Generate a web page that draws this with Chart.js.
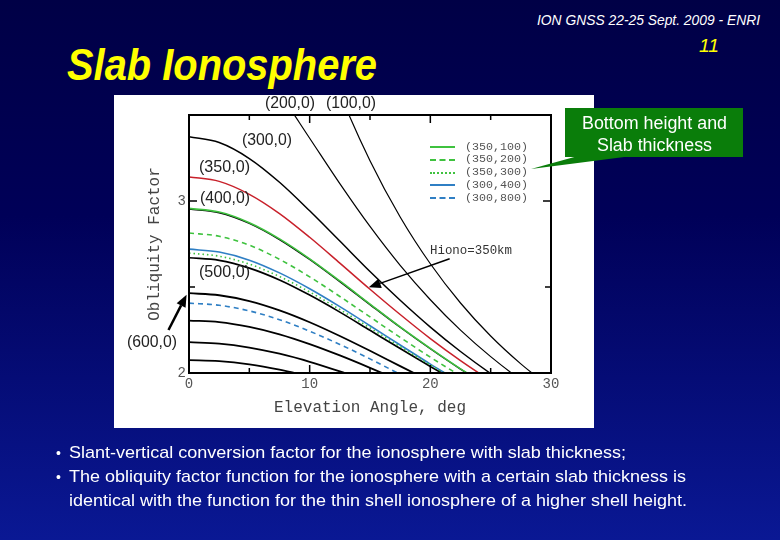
<!DOCTYPE html>
<html>
<head>
<meta charset="utf-8">
<script src="https://cdn.jsdelivr.net/npm/chart.js@4.4.1/dist/chart.umd.min.js"></script>
<style>
  html, body { margin: 0; padding: 0; }
  body {
    width: 780px; height: 540px; overflow: hidden; position: relative;
    background: linear-gradient(to bottom, #000046 0%, #000058 40%, #0a1894 100%);
    font-family: "Liberation Sans", Arial, sans-serif;
  }
  .t { position: absolute; white-space: nowrap; display: inline-block; transform-origin: 0 50%; }
  #panel { position: absolute; left: 114px; top: 95px; width: 480px; height: 333px; background: #fff; }
  #panel canvas { position: absolute; left: 0; top: 0; }
  .lbl { font-size: 16px; line-height: 18px; color: #222; }
  .mono { font-family: "Liberation Mono", "Courier New", monospace; }
  .leg { position: absolute; left: 316px; width: 25px; height: 0; }
  .legtxt { font-size: 11.7px; line-height: 12px; color: #555; left: 351px; }
  .bul { color: #fff; font-size: 17px; line-height: 22px; left: 69px; }
  .dot { color: #fff; font-size: 14px; line-height: 22px; left: 56px; }
  #callout { position: absolute; left: 565px; top: 108px; width: 178px; height: 49px; background: #0a7d0a; }
  .ct { color: #fff; font-size: 17.5px; line-height: 22px; }
</style>
</head>
<body>
<div class="t" style="left:537px; top:10px; font-size:15px; line-height:20px; font-style:italic; color:#fff;" data-w="223">ION GNSS 22-25 Sept. 2009 - ENRI</div>
<div class="t" style="left:699px; top:35px; font-size:19px; line-height:22px; font-style:italic; color:#ffff00;" data-w="20">11</div>
<div class="t" style="left:67px; top:39px; font-size:44px; line-height:52px; font-weight:bold; font-style:italic; color:#ffff00;" data-w="310">Slab Ionosphere</div>

<div id="panel">
  <canvas id="c" width="480" height="333"></canvas>
  <div class="t lbl" style="left:151px; top:-1px;" data-w="50">(200,0)</div>
  <div class="t lbl" style="left:212px; top:-1px;" data-w="50">(100,0)</div>
  <div class="t lbl" style="left:128px; top:36px;" data-w="50">(300,0)</div>
  <div class="t lbl" style="left:85px; top:63px;" data-w="51">(350,0)</div>
  <div class="t lbl" style="left:86px; top:94px;" data-w="50">(400,0)</div>
  <div class="t lbl" style="left:85px; top:168px;" data-w="51">(500,0)</div>
  <div class="t lbl" style="left:13px; top:238px;" data-w="50">(600,0)</div>
  <div class="t mono" style="left:316px; top:149px; font-size:12.5px; line-height:14px; color:#333;" data-w="82">Hiono=350km</div>

  <div class="leg" style="top:51px; border-top:2px solid #3fc23f;"></div>
  <div class="leg" style="top:64px; border-top:2px dashed #3fc23f;"></div>
  <div class="leg" style="top:77px; border-top:2px dotted #3fc23f;"></div>
  <div class="leg" style="top:89px; border-top:2px solid #2f7fc4;"></div>
  <div class="leg" style="top:102px; border-top:2px dashed #2f7fc4;"></div>
  <div class="t mono legtxt" style="top:46px;" data-w="63">(350,100)</div>
  <div class="t mono legtxt" style="top:58px;" data-w="63">(350,200)</div>
  <div class="t mono legtxt" style="top:71px;" data-w="63">(350,300)</div>
  <div class="t mono legtxt" style="top:84px;" data-w="63">(300,400)</div>
  <div class="t mono legtxt" style="top:97px;" data-w="63">(300,800)</div>
</div>

<svg width="780" height="540" style="position:absolute; left:0; top:0; pointer-events:none;">
  <polygon points="531,169 578,156 632,156" fill="#0a7d0a"/>
</svg>
<div id="callout"></div>
<div class="t ct" style="left:582px; top:112px;" data-w="145">Bottom height and</div>
<div class="t ct" style="left:597px; top:134px;" data-w="115">Slab thickness</div>

<div class="t dot" style="top:442px;">•</div>
<div class="t bul" style="top:442px;" data-w="557">Slant-vertical conversion factor for the ionosphere with slab thickness;</div>
<div class="t dot" style="top:466px;">•</div>
<div class="t bul" style="top:466px;" data-w="617">The obliquity factor function for the ionosphere with a certain slab thickness is</div>
<div class="t bul" style="top:490px;" data-w="618">identical with the function for the thin shell ionosphere of a higher shell height.</div>

<script>
// elevation angle samples (deg)
const angles = [0, 2.5, 5, 7.5, 10, 12.5, 15, 17.5, 20, 22.5, 25, 27.5, 30];

// thin shell curves (height, 0)
const shell100 = [null, null, null, 4.604, 4.085, 3.626, 3.234, 2.907, 2.635, 2.407, 2.215, 2.053, 1.914];
const shell200 = [null, 4.025, 3.861, 3.628, 3.365, 3.101, 2.852, 2.626, 2.426, 2.249, 2.095, 1.960, 1.841];
const shell300 = [3.373, 3.340, 3.247, 3.109, 2.943, 2.767, 2.590, 2.423, 2.267, 2.125, 1.997, 1.882, null];
const shell350 = [3.140, 3.114, 3.039, 2.927, 2.789, 2.639, 2.487, 2.340, 2.200, 2.072, 1.954, null, null];
const shell400 = [2.953, 2.932, 2.870, 2.776, 2.660, 2.531, 2.398, 2.266, 2.141, 2.023, 1.915, null, null];
const shell500 = [2.670, 2.655, 2.610, 2.541, 2.453, 2.354, 2.248, 2.142, 2.038, 1.938, null, null, null];
const shell600 = [2.464, 2.452, 2.418, 2.364, 2.295, 2.215, 2.129, 2.040, 1.952, null, null, null, null];
const shell700 = [2.305, 2.296, 2.268, 2.225, 2.168, 2.102, 2.030, 1.955, null, null, null, null, null];
const shell800 = [2.179, 2.171, 2.148, 2.112, 2.065, 2.009, 1.948, null, null, null, null, null, null];
const shell900 = [2.075, 2.069, 2.050, 2.019, 1.979, null, null, null, null, null, null, null, null];

// slab curves (bottom height, thickness)
const slab350_100 = [2.957, 2.936, 2.874, 2.780, 2.664, 2.535, 2.401, 2.268, 2.143, 2.024, 1.915, null, null];
const slab350_200 = [2.814, 2.795, 2.743, 2.661, 2.559, 2.445, 2.326, 2.207, 2.092, 1.983, null, null, null];
const slab350_300 = [2.697, 2.679, 2.633, 2.561, 2.471, 2.369, 2.262, 2.153, 2.047, 1.946, null, null, null];
const slab300_400 = [2.720, 2.703, 2.656, 2.582, 2.490, 2.386, 2.275, 2.163, 2.052, 1.946, null, null, null];
const slab300_800 = [2.406, 2.394, 2.361, 2.310, 2.243, 2.166, 2.082, 1.992, 1.900, null, null, null, null];

const xMarks = [0, 5, 10, 15, 20, 25, 30];
const yMarks = [2, 2.5, 3, 3.5];

// fit text widths to the slide
document.querySelectorAll('[data-w]').forEach(el => {
    const w = el.getBoundingClientRect().width;
    el.style.transform = `scaleX(${el.dataset.w / w})`;
});

const pts = vals => angles.map((a, i) => ({ x: a, y: vals[i] }));

function curve(vals, color, width, dash) {
    return {
        data: pts(vals), borderColor: color, borderWidth: width, borderDash: dash || [],
        pointRadius: 0, cubicInterpolationMode: 'monotone', fill: false
    };
}

const GREEN = '#3fc23f', BLUE = '#2f7fc4', RED = '#c8202a', BLACK = '#000';

// first dataset is drawn on top
const datasets = [
    curve(slab350_100, GREEN, 1.6),
    curve(slab350_200, GREEN, 1.6, [5, 4]),
    curve(slab350_300, GREEN, 1.6, [1.5, 3]),
    curve(slab300_400, BLUE, 1.6),
    curve(slab300_800, BLUE, 1.6, [5, 4]),
    curve(shell350, RED, 1.5),
    curve(shell100, BLACK, 1.2),
    curve(shell200, BLACK, 1.2),
    curve(shell300, BLACK, 1.5),
    curve(shell400, BLACK, 1.5),
    curve(shell500, BLACK, 1.7),
    curve(shell600, BLACK, 1.8),
    curve(shell700, BLACK, 1.8),
    curve(shell800, BLACK, 1.8),
    curve(shell900, BLACK, 1.8)
];

// annotation arrows in data coordinates
const arrows = [
    { from: [-1.7, 2.25], to: [-0.2, 2.455], width: 2.5 },
    { from: [21.6, 2.664], to: [14.9, 2.498], width: 1.5 }
];

const framePlugin = {
    id: 'frame',
    afterDatasetsDraw(chart) {
        const { ctx, chartArea: a, scales: { x, y } } = chart;
        ctx.save();
        ctx.strokeStyle = '#000';
        ctx.fillStyle = '#000';
        ctx.lineWidth = 2;
        ctx.strokeRect(a.left, a.top, a.right - a.left, a.bottom - a.top);
        ctx.lineWidth = 1.5;
        ctx.beginPath();
        xMarks.forEach(v => {
            const px = x.getPixelForValue(v);
            const len = v % 10 === 0 ? 8 : 5;
            ctx.moveTo(px, a.bottom); ctx.lineTo(px, a.bottom - len);
            ctx.moveTo(px, a.top); ctx.lineTo(px, a.top + len);
        });
        yMarks.forEach(v => {
            const py = y.getPixelForValue(v);
            const len = v % 1 === 0 ? 8 : 6;
            ctx.moveTo(a.left, py); ctx.lineTo(a.left + len, py);
            ctx.moveTo(a.right, py); ctx.lineTo(a.right - len, py);
        });
        ctx.stroke();

        arrows.forEach(ar => {
            const x0 = x.getPixelForValue(ar.from[0]), y0 = y.getPixelForValue(ar.from[1]);
            const x1 = x.getPixelForValue(ar.to[0]), y1 = y.getPixelForValue(ar.to[1]);
            const ang = Math.atan2(y1 - y0, x1 - x0);
            const hl = 12, hw = 5;
            const bx = x1 - hl * Math.cos(ang), by = y1 - hl * Math.sin(ang);
            ctx.lineWidth = ar.width;
            ctx.beginPath();
            ctx.moveTo(x0, y0); ctx.lineTo(bx, by);
            ctx.stroke();
            ctx.beginPath();
            ctx.moveTo(x1, y1);
            ctx.lineTo(bx + hw * Math.sin(ang), by - hw * Math.cos(ang));
            ctx.lineTo(bx - hw * Math.sin(ang), by + hw * Math.cos(ang));
            ctx.closePath();
            ctx.fill();
        });
        ctx.restore();
    }
};

const MONO = '"Liberation Mono", "Courier New", monospace';

new Chart(document.getElementById('c'), {
    type: 'line',
    data: { datasets },
    options: {
        responsive: false, animation: false, devicePixelRatio: 1,
        layout: { padding: { left: 0, top: 20, right: 43, bottom: 0 } },
        plugins: { legend: { display: false }, tooltip: { enabled: false } },
        scales: {
            x: {
                type: 'linear', min: 0, max: 30,
                grid: { display: false, drawTicks: false }, border: { display: false },
                ticks: { stepSize: 10, color: '#555', padding: 3, font: { family: MONO, size: 14 } },
                title: { display: true, text: 'Elevation Angle, deg', color: '#444',
                    font: { family: MONO, size: 16 }, padding: { top: 0, bottom: 11 } },
                afterFit: s => { s.height = 55; }
            },
            y: {
                min: 2, max: 3.5,
                grid: { display: false, drawTicks: false }, border: { display: false },
                ticks: { stepSize: 0.5, color: '#555', padding: 3, font: { family: MONO, size: 14 },
                    callback: v => (v % 1 === 0 ? String(v) : '') },
                title: { display: true, text: 'Obliquity Factor', color: '#444',
                    font: { family: MONO, size: 16 }, padding: { top: 31, bottom: 0 } },
                afterFit: s => { s.width = 75; }
            }
        }
    },
    plugins: [framePlugin]
});
</script>
</body>
</html>
